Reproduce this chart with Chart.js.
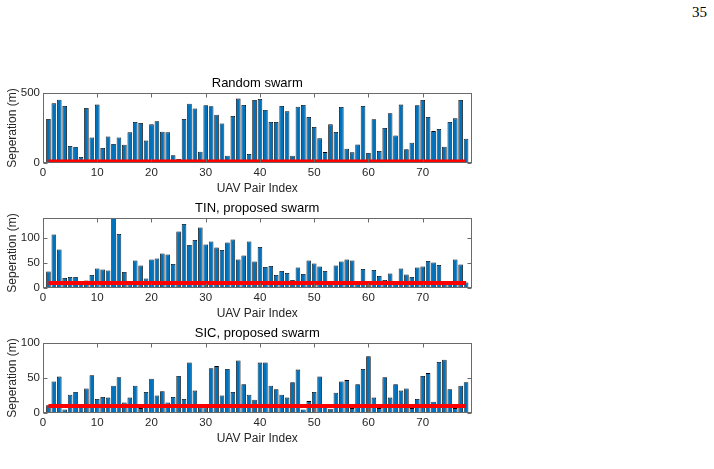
<!DOCTYPE html>
<html>
<head>
<meta charset="utf-8">
<script src="https://cdn.jsdelivr.net/npm/chart.js@4.4.0/dist/chart.umd.min.js"></script>
<style>
    body { margin: 0; background: #fff; }
    #page { position: relative; width: 714px; height: 469px; overflow: hidden; }
    .plot { position: absolute; left: 0; }
    #pageNum { position: absolute; left: 692px; top: 5px; font: 15px "Liberation Serif", "Times New Roman", serif; line-height: 15px; color: #000; }
</style>
</head>
<body>
<div id="page">
    <div id="pageNum">35</div>
    <canvas id="randomChart" class="plot" width="714" height="127" style="top:70px"></canvas>
    <canvas id="tinChart" class="plot" width="714" height="127" style="top:195px"></canvas>
    <canvas id="sicChart" class="plot" width="714" height="127" style="top:320px"></canvas>
</div>
<script>
// UAV pair index 1..78
var pairIndex = [];
for (var p = 1; p <= 78; p++) pairIndex.push(p);

var xTicks = [0, 10, 20, 30, 40, 50, 60, 70];
var minSeparation = 10;

// separation per pair (m)
var randomSwarm = [314, 426, 452, 407, 121, 114, 43, 393, 183, 417,
    107, 190, 136, 183, 131, 219, 293, 286, 160, 276,
    298, 224, 219, 55, 29, 314, 424, 390, 81, 412,
    405, 345, 283, 52, 336, 460, 414, 64, 450, 457,
    379, 293, 293, 407, 369, 52, 402, 414, 329, 257,
    176, 78, 276, 221, 400, 102, 76, 133, 407, 71,
    312, 86, 250, 355, 197, 417, 98, 145, 412, 450,
    329, 228, 243, 116, 293, 319, 450, 174];

var tinSwarm = [33, 107, 77, 20, 22, 22, 8, 15, 26, 39,
    37, 35, 140, 108, 32, 7, 55, 45, 19, 57,
    59, 69, 67, 48, 113, 128, 86, 96, 121, 87,
    93, 81, 76, 91, 97, 57, 65, 93, 53, 82,
    42, 44, 26, 34, 30, 16, 41, 28, 55, 49,
    43, 34, 8, 45, 53, 57, 55, 8, 38, 7,
    36, 24, 16, 29, 8, 39, 27, 22, 41, 43,
    54, 51, 46, 8, 8, 57, 47, 11];

var sicSwarm = [11, 45, 52, 5, 26, 30, 9, 35, 54, 20,
    23, 22, 39, 51, 15, 22, 39, 7, 30, 49,
    25, 31, 15, 23, 53, 20, 72, 32, 8, 8,
    64, 67, 25, 63, 30, 75, 41, 26, 19, 72,
    72, 39, 34, 26, 22, 44, 62, 5, 17, 30,
    52, 12, 6, 29, 45, 47, 7, 41, 63, 81,
    22, 7, 51, 22, 41, 32, 35, 7, 20, 53,
    57, 16, 73, 76, 34, 7, 39, 44];

var randomTicks = [0, 500];
var tinTicks = [0, 50, 100];
var sicTicks = [0, 50, 100];

var FONT = '"Liberation Sans", Arial, Helvetica, sans-serif';
var AXIS_COLOR = '#6a6a6a';
var TEXT_COLOR = '#262626';

// matlab style box with inward ticks on all sides, title centred over the axes
var boxPlugin = {
    id: 'matlabBox',
    afterDatasetsDraw: function (chart, args, opts) {
        var a = chart.chartArea;
        var ctx = chart.ctx;
        var xs = chart.scales.x, ys = chart.scales.y;
        var l = Math.round(a.left) + 0.5, r = Math.round(a.right) - 0.5;
        var t = Math.round(a.top) + 0.5, b = Math.round(a.bottom) - 0.5;
        ctx.save();
        ctx.strokeStyle = AXIS_COLOR;
        ctx.lineWidth = 1;
        ctx.strokeRect(l, t, r - l, b - t);
        ctx.beginPath();
        xTicks.forEach(function (v) {
            var px = Math.round(xs.getPixelForValue(v)) + 0.5;
            ctx.moveTo(px, b); ctx.lineTo(px, b - 4);
            ctx.moveTo(px, t); ctx.lineTo(px, t + 4);
        });
        ys.ticks.forEach(function (tk) {
            var py = Math.round(ys.getPixelForValue(tk.value)) + 0.5;
            ctx.moveTo(l, py); ctx.lineTo(l + 4, py);
            ctx.moveTo(r, py); ctx.lineTo(r - 4, py);
        });
        ctx.stroke();

        ctx.fillStyle = '#000';
        ctx.font = '13px ' + FONT;
        ctx.textAlign = 'center';
        ctx.textBaseline = 'middle';
        ctx.fillText(opts.text, (a.left + a.right) / 2, a.top - 9.5);
        ctx.restore();
    }
};

function makeChart(id, title, values, yMax, yTicks) {
    var bars = pairIndex.map(function (x, i) {
        return {x: x, y: values[i]};
    });
    var line = [
        {x: pairIndex[0], y: minSeparation},
        {x: pairIndex[pairIndex.length - 1], y: minSeparation}
    ];
    return new Chart(document.getElementById(id), {
        data: {
            datasets: [
                {
                    type: 'line',
                    data: line,
                    borderColor: '#ff0000',
                    borderWidth: 4,
                    pointRadius: 0,
                    order: 0
                },
                {
                    type: 'bar',
                    data: bars,
                    backgroundColor: '#0072bd',
                    borderColor: '#000000',
                    borderWidth: 0.8,
                    barPercentage: 0.85,
                    categoryPercentage: 1,
                    order: 1
                }
            ]
        },
        options: {
            responsive: false,
            animation: false,
            layout: {padding: {left: 0, right: 242.5, top: 23, bottom: 0}},
            plugins: {
                legend: {display: false},
                tooltip: {enabled: false},
                title: {display: false},
                matlabBox: {text: title}
            },
            scales: {
                x: {
                    type: 'linear',
                    min: 0,
                    max: 79,
                    offset: false,
                    grid: {display: false, drawTicks: false},
                    border: {display: false},
                    ticks: {color: TEXT_COLOR, font: {family: FONT, size: 11.5}, padding: 3, maxRotation: 0},
                    afterBuildTicks: function (s) {
                        s.ticks = xTicks.map(function (v) { return {value: v}; });
                    },
                    afterFit: function (s) { s.height = 34; },
                    title: {
                        display: true,
                        text: 'UAV Pair Index',
                        color: TEXT_COLOR,
                        font: {family: FONT, size: 12, lineHeight: 1.2},
                        padding: {top: 0, bottom: 1.1}
                    }
                },
                y: {
                    min: 0,
                    max: yMax,
                    grid: {display: false, drawTicks: false},
                    border: {display: false},
                    ticks: {color: TEXT_COLOR, font: {family: FONT, size: 11.5}, padding: 3},
                    afterBuildTicks: function (s) {
                        s.ticks = yTicks.map(function (v) { return {value: v}; });
                    },
                    afterFit: function (s) { s.width = 43; },
                    title: {
                        display: true,
                        text: 'Seperation (m)',
                        color: TEXT_COLOR,
                        font: {family: FONT, size: 12, lineHeight: 1.2},
                        padding: {top: 5.1, bottom: 0}
                    }
                }
            }
        },
        plugins: [boxPlugin]
    });
}

makeChart('randomChart', 'Random swarm', randomSwarm, 500, randomTicks);
makeChart('tinChart', 'TIN, proposed swarm', tinSwarm, 140, tinTicks);
makeChart('sicChart', 'SIC, proposed swarm', sicSwarm, 100, sicTicks);
</script>
</body>
</html>
